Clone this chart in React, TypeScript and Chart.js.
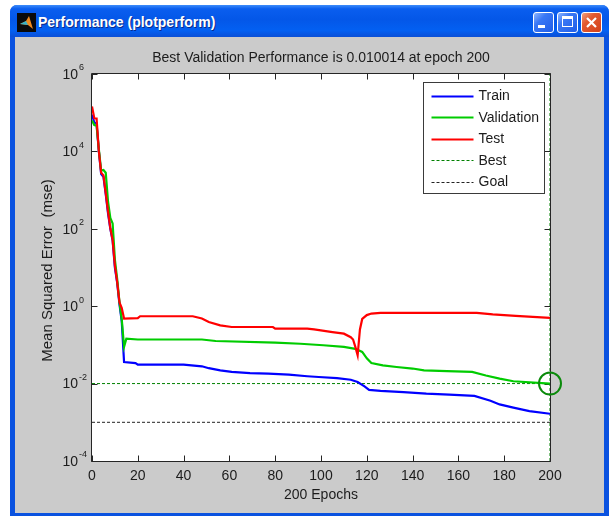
import React, { useEffect, useRef } from 'react';
import { Chart, registerables } from 'chart.js';

Chart.register(...registerables);

// ---------- texts ----------
const windowTitle = 'Performance (plotperform)';
const chartTitle = 'Best Validation Performance is 0.010014 at epoch 200';
const xAxisTitle = '200 Epochs';
const yAxisTitle = 'Mean Squared Error  (mse)';
const seriesNames = ['Train', 'Validation', 'Test', 'Best', 'Goal'];

// ---------- ticks ----------
const xTicks = [0, 20, 40, 60, 80, 100, 120, 140, 160, 180, 200];
const yTickExponents = [-4, -2, 0, 2, 4, 6];

// ---------- data ----------
const trainEpochs = [0, 1, 2, 3, 4, 5, 6, 7, 8, 9, 10, 11, 12, 13, 14, 19, 20, 40, 48, 51, 56, 61, 69, 77, 86, 94, 99, 107, 113, 116, 119, 121, 126, 136, 146, 156, 167, 174, 178, 184, 191, 200];
const trainMse = [8.9e4, 5.6e4, 5.2e4, 1.0e4, 2.6e3, 2.2e3, 790, 250, 100, 50, 10, 4.0, 1.12, 0.40, 0.036, 0.034, 0.031, 0.031, 0.028, 0.025, 0.0219, 0.020, 0.0186, 0.0182, 0.017, 0.0155, 0.0148, 0.0138, 0.0126, 0.011, 0.0085, 0.0069, 0.0065, 0.006, 0.0055, 0.0052, 0.0048, 0.0036, 0.0029, 0.0024, 0.00195, 0.00166];

const validationEpochs = [0, 1, 2, 3, 4, 5, 6, 7, 8, 9, 10, 11, 12, 13, 14, 15, 20, 48, 54, 80, 91, 101, 110, 115, 118, 120, 122, 127, 133, 140, 145, 155, 166, 172, 178, 184, 200];
const validationMse = [6.3e4, 4.8e4, 4.6e4, 1.12e4, 3.2e3, 3.3e3, 2.8e3, 500, 190, 138, 15.8, 5.0, 1.26, 0.45, 0.089, 0.145, 0.138, 0.138, 0.126, 0.115, 0.107, 0.098, 0.089, 0.079, 0.066, 0.045, 0.034, 0.0295, 0.0269, 0.0245, 0.0219, 0.0209, 0.020, 0.0162, 0.0135, 0.0115, 0.010014];

const testEpochs = [0, 1, 2, 3, 4, 5, 6, 7, 8, 9, 10, 11, 12, 13, 14, 20, 21, 44, 48, 51, 56, 61, 79, 80, 94, 97, 105, 110, 113, 114, 115, 116, 117, 118, 120, 122, 126, 168, 175, 185, 200];
const testMse = [1.45e5, 7.2e4, 7.1e4, 1.0e4, 2.8e3, 2.4e3, 830, 280, 105, 52, 11.2, 4.2, 1.26, 0.89, 0.48, 0.49, 0.55, 0.55, 0.48, 0.39, 0.32, 0.29, 0.29, 0.263, 0.263, 0.251, 0.214, 0.195, 0.158, 0.138, 0.089, 0.054, 0.251, 0.468, 0.589, 0.646, 0.676, 0.676, 0.617, 0.562, 0.501];

const bestEpoch = 200;
const bestPerf = 0.010014;
const goalPerf = 0.001;
const epochRange = [0, 200];
const mseRange = [1e-4, 1e6];

// ---------- style ----------
const FONT = '"Liberation Sans", Arial, Helvetica, sans-serif';
const TEXT = '#1c1c1c';
const COLORS = { train: '#0000ff', validation: '#00cc00', test: '#ff0000', best: '#008000', goal: '#222222', circle: '#0a8a0a' };

const toPts = (xs: number[], ys: number[]) => xs.map((x, i) => ({ x, y: ys[i] }));

const matlabPlugin = {
  id: 'matlabLook',
  beforeDraw(chart: any) {
    const { ctx, chartArea } = chart;
    const { left, right, top, bottom } = chartArea;
    ctx.save();
    ctx.fillStyle = '#ffffff';
    ctx.fillRect(left, top, right - left, bottom - top);
    ctx.restore();
  },
  beforeDatasetsDraw(chart: any) {
    const { ctx, chartArea, scales } = chart;
    const { left, right, top, bottom } = chartArea;
    const xs = scales.x;
    const ys = scales.y;
    ctx.save();
    ctx.strokeStyle = '#262626';
    ctx.lineWidth = 1;
    const L = Math.round(left) - 0.5;
    const R = Math.round(right) + 0.5;
    const T = Math.round(top) - 0.5;
    const B = Math.round(bottom) + 0.5;
    ctx.beginPath();
    ctx.rect(L, T, R - L, B - T);
    const tl = 6;
    xTicks.forEach((v) => {
      const px = Math.round(xs.getPixelForValue(v)) + 0.5;
      ctx.moveTo(px, B);
      ctx.lineTo(px, B - tl);
      ctx.moveTo(px, T);
      ctx.lineTo(px, T + tl);
    });
    yTickExponents.forEach((k) => {
      const py = Math.round(ys.getPixelForValue(Math.pow(10, k))) + 0.5;
      ctx.moveTo(L, py);
      ctx.lineTo(L + tl, py);
      ctx.moveTo(R, py);
      ctx.lineTo(R - tl, py);
    });
    ctx.stroke();
    ctx.restore();
  },
  afterDraw(chart: any) {
    const { ctx, chartArea, scales } = chart;
    const { left, right, top, bottom } = chartArea;
    const ys = scales.y;
    const cx = (left + right) / 2;
    const cy = (top + bottom) / 2;
    ctx.save();
    ctx.fillStyle = TEXT;

    // y tick labels 10^k
    yTickExponents.forEach((k) => {
      const py = ys.getPixelForValue(Math.pow(10, k));
      ctx.font = `14px ${FONT}`;
      ctx.textAlign = 'right';
      ctx.textBaseline = 'middle';
      ctx.fillText('10', left - 14, py + 1);
      ctx.font = `9px ${FONT}`;
      ctx.textAlign = 'left';
      ctx.fillText(String(k), left - 13, py - 6);
    });

    // title
    ctx.font = `14px ${FONT}`;
    ctx.textAlign = 'center';
    ctx.textBaseline = 'middle';
    ctx.fillText(chartTitle, cx, top - 16);

    // x title
    ctx.fillText(xAxisTitle, cx, bottom + 34);

    // y title
    ctx.save();
    ctx.translate(left - 44, cy + 3);
    ctx.rotate(-Math.PI / 2);
    ctx.font = `15px ${FONT}`;
    ctx.fillText(yAxisTitle, 0, 0);
    ctx.restore();

    // legend
    const bw = 121;
    const bh = 111;
    const bx = Math.round(right) - 6 - bw + 0.5;
    const by = Math.round(top) + 8 + 0.5;
    ctx.fillStyle = '#ffffff';
    ctx.fillRect(bx, by, bw, bh);
    ctx.strokeStyle = '#3a3a3a';
    ctx.lineWidth = 1;
    ctx.strokeRect(bx, by, bw, bh);
    const items = [
      { name: seriesNames[0], color: COLORS.train, dash: [] as number[], w: 2 },
      { name: seriesNames[1], color: COLORS.validation, dash: [] as number[], w: 2 },
      { name: seriesNames[2], color: COLORS.test, dash: [] as number[], w: 2 },
      { name: seriesNames[3], color: COLORS.best, dash: [3, 2], w: 1 },
      { name: seriesNames[4], color: COLORS.goal, dash: [3, 2], w: 1 },
    ];
    items.forEach((it, i) => {
      const yy = by + 13 + i * 21.5;
      ctx.beginPath();
      ctx.setLineDash(it.dash);
      ctx.strokeStyle = it.color;
      ctx.lineWidth = it.w;
      ctx.moveTo(bx + 8, Math.round(yy) + 0.5);
      ctx.lineTo(bx + 50, Math.round(yy) + 0.5);
      ctx.stroke();
      ctx.setLineDash([]);
      ctx.fillStyle = TEXT;
      ctx.font = `14px ${FONT}`;
      ctx.textAlign = 'left';
      ctx.textBaseline = 'middle';
      ctx.fillText(it.name, bx + 55, yy + 1);
    });
    ctx.restore();
  },
};

function PerformanceChart() {
  const ref = useRef<HTMLCanvasElement | null>(null);
  useEffect(() => {
    if (!ref.current) return;
    const chart = new Chart(ref.current, {
      type: 'line',
      data: {
        datasets: [
          { label: seriesNames[2], data: toPts(testEpochs, testMse), borderColor: COLORS.test, borderWidth: 2.2, pointRadius: 0, tension: 0, order: 0 },
          { label: seriesNames[1], data: toPts(validationEpochs, validationMse), borderColor: COLORS.validation, borderWidth: 2.2, pointRadius: 0, tension: 0, order: 1 },
          { label: seriesNames[0], data: toPts(trainEpochs, trainMse), borderColor: COLORS.train, borderWidth: 2.2, pointRadius: 0, tension: 0, order: 2 },
          { label: seriesNames[3], data: [{ x: epochRange[0], y: bestPerf }, { x: epochRange[1], y: bestPerf }], borderColor: COLORS.best, borderWidth: 1, borderDash: [3, 2], pointRadius: 0, order: 3 },
          { label: seriesNames[3] + ' epoch', data: [{ x: bestEpoch, y: mseRange[0] }, { x: bestEpoch, y: mseRange[1] }], borderColor: COLORS.best, borderWidth: 1, borderDash: [3, 2], pointRadius: 0, order: 3 },
          { label: seriesNames[4], data: [{ x: epochRange[0], y: goalPerf }, { x: epochRange[1], y: goalPerf }], borderColor: COLORS.goal, borderWidth: 1, borderDash: [3, 2], pointRadius: 0, order: 3 },
          { label: 'best point', data: [{ x: bestEpoch, y: bestPerf }], showLine: false, pointRadius: 11, pointBorderWidth: 2, pointBorderColor: COLORS.circle, pointBackgroundColor: 'rgba(0,0,0,0)', clip: false as any, order: -1 },
        ] as any,
      },
      options: {
        responsive: false,
        animation: false,
        devicePixelRatio: 1,
        layout: { padding: { left: 0, top: 37, right: 54, bottom: 0 } },
        plugins: { legend: { display: false }, tooltip: { enabled: false }, title: { display: false } },
        scales: {
          x: {
            type: 'linear',
            min: epochRange[0],
            max: epochRange[1],
            grid: { display: false, drawTicks: false },
            border: { display: false },
            ticks: { stepSize: 20, padding: 7, color: TEXT, font: { family: FONT, size: 14 }, maxRotation: 0, autoSkip: false },
            afterFit: (s: any) => { s.height = 52; },
          },
          y: {
            type: 'logarithmic',
            min: mseRange[0],
            max: mseRange[1],
            grid: { display: false, drawTicks: false },
            border: { display: false },
            ticks: { display: false },
            afterFit: (s: any) => { s.width = 77; },
          },
        },
      } as any,
      plugins: [matlabPlugin],
    });
    return () => chart.destroy();
  }, []);
  return <canvas ref={ref} width={589} height={476} style={{ display: 'block' }} />;
}

function WinButton({ left, kind }: { left: number; kind: 'min' | 'max' | 'close' }) {
  const isClose = kind === 'close';
  return (
    <div
      style={{
        position: 'absolute',
        left,
        top: 7,
        width: 21,
        height: 21,
        boxSizing: 'border-box',
        border: '1px solid #ffffff',
        borderRadius: 3,
        background: isClose
          ? 'linear-gradient(135deg, #f0a080 0%, #e35a30 35%, #d2401a 100%)'
          : 'linear-gradient(135deg, #8fb6ff 0%, #3a78f5 35%, #1f5de8 100%)',
      }}
    >
      {kind === 'min' && <div style={{ position: 'absolute', left: 4, top: 12, width: 7, height: 3, background: '#fff' }} />}
      {kind === 'max' && (
        <div style={{ position: 'absolute', left: 4, top: 3, width: 11, height: 11, boxSizing: 'border-box', border: '1px solid #fff', borderTop: '3px solid #fff' }} />
      )}
      {isClose && (
        <svg width="19" height="19" style={{ position: 'absolute', left: 0, top: 0 }}>
          <path d="M5 5 L14 14 M14 5 L5 14" stroke="#fff" strokeWidth="2.2" />
        </svg>
      )}
    </div>
  );
}

export default function App() {
  return (
    <div style={{ position: 'absolute', left: 0, top: 0, width: 610, height: 516, background: '#ffffff', overflow: 'hidden' }}>
      <div
        style={{
          position: 'absolute',
          left: 10,
          top: 5,
          width: 599,
          height: 515,
          background: '#0a52e0',
          borderRadius: '7px 7px 0 0',
        }}
      >
        <div
          style={{
            position: 'absolute',
            left: 0,
            top: 0,
            width: 599,
            height: 32,
            borderRadius: '7px 7px 0 0',
            background: 'linear-gradient(to bottom, #3d8cfa 0%, #0a5eef 12%, #0457e8 45%, #0360f2 80%, #0b4fd6 100%)',
          }}
        />
        <svg width="19" height="19" style={{ position: 'absolute', left: 7, top: 8 }}>
          <rect x="0" y="0" width="19" height="19" fill="#0a0a0a" />
          <path d="M3 11 L9 8 L12 3 L16 16 L11 12 Z" fill="#f08a1c" />
          <path d="M3 11 L9 8 L11 12 Z" fill="#36b2c8" />
        </svg>
        <div
          style={{
            position: 'absolute',
            left: 28,
            top: 7,
            color: '#ffffff',
            font: `bold 14px ${FONT}`,
            lineHeight: '20px',
            textShadow: '1px 1px 0 #0a2a8a',
            whiteSpace: 'nowrap',
          }}
        >
          {windowTitle}
        </div>
        <WinButton left={523} kind="min" />
        <WinButton left={547} kind="max" />
        <WinButton left={571} kind="close" />
        <div style={{ position: 'absolute', left: 5, top: 32, width: 589, height: 476, background: '#cbcbcb' }}>
          <PerformanceChart />
        </div>
      </div>
    </div>
  );
}
